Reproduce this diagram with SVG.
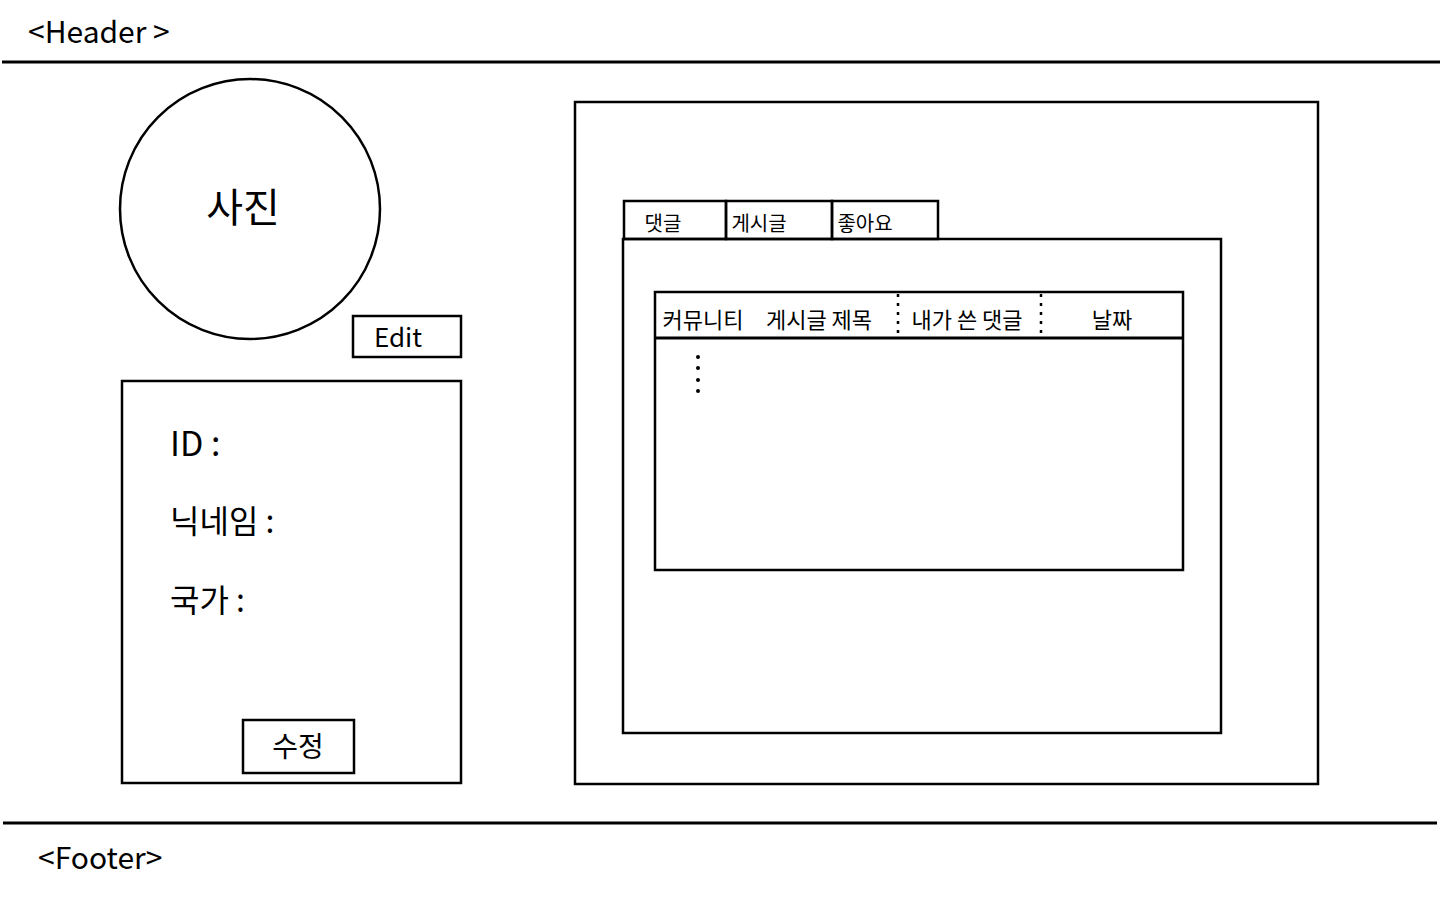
<svg xmlns="http://www.w3.org/2000/svg" width="1440" height="900" viewBox="0 0 1440 900">
<style>
.s{fill:none;stroke:#000;stroke-width:2.5}
.l{stroke:#000;stroke-width:3}
.t{font-family:"Noto Sans CJK KR","Noto Sans",sans-serif;fill:#000}
.d{stroke:#000;stroke-width:2.5;stroke-dasharray:3 6}
</style>
<rect width="1440" height="900" fill="#fff"/>
<g id="header">
<text class="t" x="28" y="43" font-size="30">&lt;Header &gt;</text>
<line class="l" x1="2" y1="62" x2="1440" y2="62"/>
</g>
<g id="photo">
<circle class="s" cx="250" cy="209" r="130"/>
<text class="t" x="243" y="222" font-size="40" text-anchor="middle">사진</text>
</g>
<g id="edit">
<rect class="s" x="353" y="316" width="108" height="41"/>
<text class="t" x="398" y="347" font-size="26" text-anchor="middle">Edit</text>
</g>
<g id="info">
<rect class="s" x="122" y="381" width="339" height="402"/>
<text class="t" x="170" y="456" font-size="34">ID :</text>
<text class="t" x="170" y="533" font-size="32">닉네임 :</text>
<text class="t" x="170" y="612" font-size="32">국가 :</text>
</g>
<g id="modify">
<rect class="s" x="243" y="720" width="111" height="53"/>
<text class="t" x="298" y="757" font-size="28" text-anchor="middle">수정</text>
</g>
<g id="main">
<rect class="s" x="575" y="102" width="743" height="682"/>
</g>
<g id="tabs">
<rect class="s" x="624" y="201" width="102" height="38"/>
<rect class="s" x="726" y="201" width="106" height="38"/>
<rect class="s" x="832" y="201" width="106" height="38"/>
<text class="t" x="663" y="231" font-size="20" text-anchor="middle">댓글</text>
<text class="t" x="759" y="231" font-size="20" text-anchor="middle">게시글</text>
<text class="t" x="865" y="231" font-size="20" text-anchor="middle">좋아요</text>
</g>
<g id="panel">
<rect class="s" x="623" y="239" width="598" height="494"/>
</g>
<g id="table">
<rect class="s" x="655" y="292" width="528" height="278"/>
<line class="l" x1="655" y1="338" x2="1183" y2="338"/>
<text class="t" x="703" y="328" font-size="22" text-anchor="middle">커뮤니티</text>
<text class="t" x="819" y="328" font-size="22" text-anchor="middle">게시글 제목</text>
<text class="t" x="967" y="328" font-size="22" text-anchor="middle">내가 쓴 댓글</text>
<text class="t" x="1112" y="328" font-size="22" text-anchor="middle">날짜</text>
<line class="d" x1="898" y1="294" x2="898" y2="336"/>
<line class="d" x1="1041" y1="294" x2="1041" y2="336"/>
<g fill="#000"><circle cx="698" cy="357" r="2"/><circle cx="698" cy="368" r="2"/><circle cx="698" cy="380" r="2"/><circle cx="698" cy="391" r="2"/></g>
</g>
<g id="footer">
<line class="l" x1="3" y1="823" x2="1437" y2="823"/>
<text class="t" x="38" y="869" font-size="30">&lt;Footer&gt;</text>
</g>
<g id="connectors"></g>
</svg>
